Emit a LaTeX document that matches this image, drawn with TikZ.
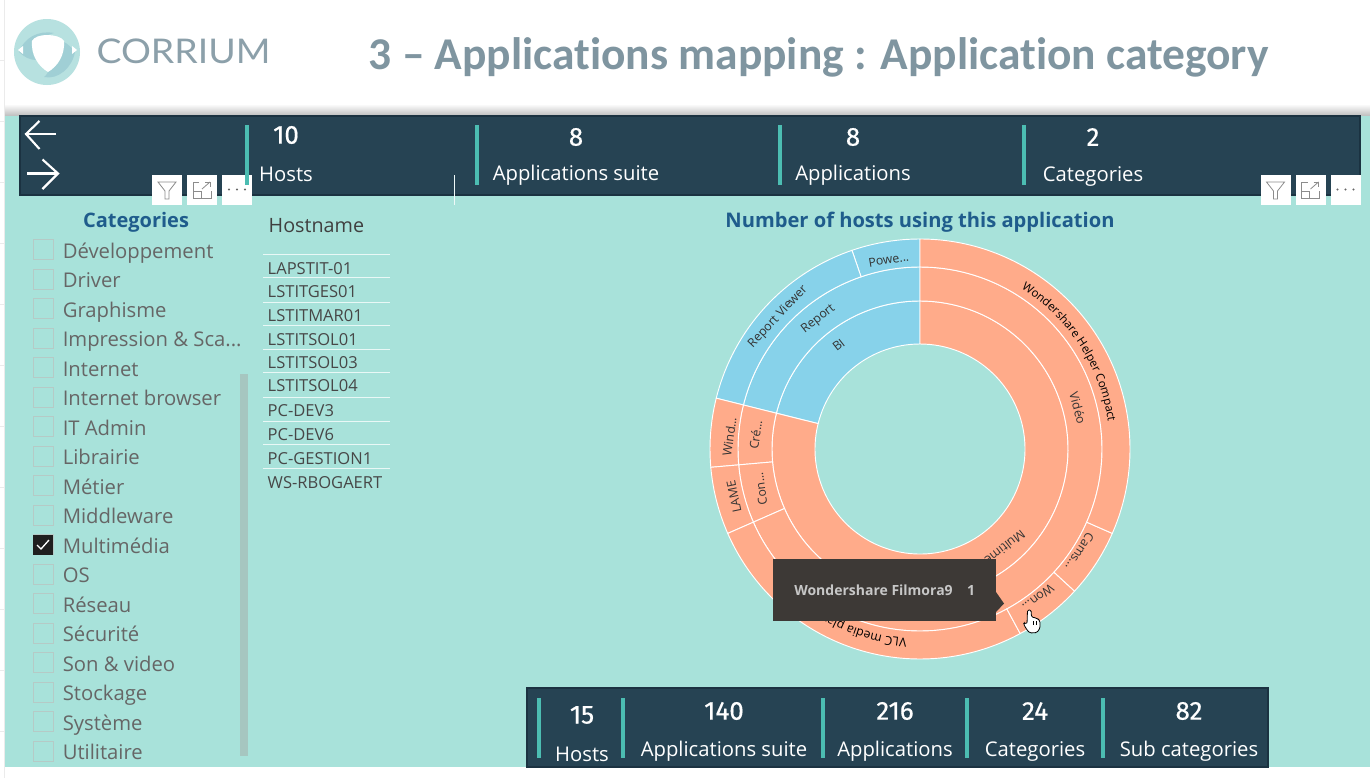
\documentclass[tikz,border=0pt]{standalone}
\usepackage{fontspec}
\setmainfont{Open Sans}
\newfontfamily\titlefont[Ligatures=NoCommon]{Carlito}
\newfontfamily\numfont[FakeBold=0.5]{Fira Sans}
\newfontfamily\logofont{Lato}
\usetikzlibrary{decorations.text}
\definecolor{pagebg}{HTML}{A8E2DA}
\definecolor{panelbg}{HTML}{264353}
\definecolor{panelline}{HTML}{1B3241}
\definecolor{barteal}{HTML}{4CBDB2}
\definecolor{sliceorange}{HTML}{FFAB8A}
\definecolor{sliceblue}{HTML}{87D2EA}
\definecolor{headblue}{HTML}{1F5C8C}
\definecolor{listgrey}{HTML}{666666}
\definecolor{titlegrey}{HTML}{7F95A0}
\definecolor{tipbg}{HTML}{3D3936}
\definecolor{logolight}{HTML}{B7E1E0}
\definecolor{logodark}{HTML}{A0CFD5}
\definecolor{scrollgrey}{HTML}{A6C6C0}
\definecolor{boxgrey}{HTML}{B5CAC6}
\def\ringslice[#1](#2:#3:#4:#5){\draw[#1] (#2:#4) arc (#2:#3:#4) -- (#3:#5) arc (#3:#2:#5) -- cycle;}
\def\slicefont{\fontsize{9.2}{10}\selectfont}
\def\longslicefont{\fontsize{8.7}{10}\selectfont}
\tikzset{
	barline/.style={fill=barteal, draw=none},
	kpinum/.style={text=white, font=\numfont\fontsize{19.5}{20}\selectfont},
	kpilabel/.style={text=white, font=\fontsize{15.2}{16}\selectfont},
	catlabel/.style={anchor=base west, inner sep=0pt, text=listgrey, font=\fontsize{15.2}{16}\selectfont},
	catbox/.style={draw=boxgrey, line width=0.6pt},
	hostlabel/.style={anchor=west, text=black!72, font=\fontsize{12.4}{13}\selectfont},
	slicelabel/.style={text=black!80, font=\slicefont},
	toolbox/.style={fill=white, draw=none},
	toolline/.style={draw=black!45, line width=0.6pt}
}
\begin{document}
\begin{tikzpicture}[x=0.75pt, y=-0.75pt]
	\useasboundingbox (0, 0) rectangle (1370, 778);
	%%%%% PAGE %%%%%
	\fill[white] (0, 0) rectangle (1370, 778);
	\fill[pagebg] (5, 115) rectangle (1370, 767);
	\draw[black!8] (4.5, 0) -- (4.5, 778);
	\foreach \ty in {60, 121, 182, 243, 304, 365, 426, 487, 548, 609, 670, 731}
		\draw[black!8] (0, \ty) -- (4.5, \ty);
	\shade[top color=white, bottom color=black!24] (5, 104) rectangle (1370, 115);

	%%%%% LOGO AND TITLE %%%%%
	\fill[logolight] (47, 52) circle (33);
	\fill[logodark] (19, 52) .. controls (24, 38) and (38, 30) .. (54, 33) -- (32, 40) .. controls (31, 48) and (33, 56) .. (36, 60) .. controls (30, 60) and (24, 57) .. (19, 52) -- cycle;
	\fill[logodark] (75, 52) .. controls (72, 68) and (58, 80) .. (44, 77) .. controls (47, 75) and (47, 73) .. (48, 72) .. controls (58, 66) and (64, 55) .. (64, 42) .. controls (68, 44) and (72, 48) .. (75, 52) -- cycle;
	\fill[white] (47, 35) .. controls (40, 35) and (34, 37) .. (32, 41) .. controls (31, 55) and (38, 66) .. (48, 72) .. controls (58, 66) and (65, 55) .. (64, 41) .. controls (62, 37) and (54, 35) .. (47, 35) -- cycle;
	\fill[white] (18, 50) -- (23, 46) -- (23, 54) -- cycle;
	\fill[white] (77, 50) -- (72, 46) -- (72, 54) -- cycle;
	\node[text=titlegrey!90, xscale=1.1, font=\logofont\fontsize{25.5}{26}\selectfont] (logotext) at (183.5, 51) {CORRIUM};
	\node[text=titlegrey, font=\titlefont\bfseries\fontsize{34.1}{35}\selectfont] (pagetitle) at (818.5, 57.5) {3 – Applications mapping : Application category};

	%%%%% TOP PANEL %%%%%
	\draw[fill=panelbg, draw=panelline, line width=1.5pt] (20, 116) rectangle (1360, 195);
	\draw[white, line width=1.6pt] (56, 134) -- (26, 134);
	\draw[white, line width=1.6pt] (39.5, 121) -- (26, 134) -- (39.5, 149);
	\draw[white, line width=1.6pt] (27, 173.5) -- (58, 173.5);
	\draw[white, line width=1.6pt] (42.5, 159.5) -- (58, 173.5) -- (42.5, 189);

	%%%%% VISUAL HEADER ICONS %%%%%
	\draw[white!80!pagebg, line width=0.5pt] (454.5, 175) -- (454.5, 205);
	\foreach \ix/\iy in {152/175, 1260.5/175} {
		\fill[toolbox] (\ix, \iy) rectangle (\ix+30, \iy+29.5);
		\draw[toolline] (\ix+6, \iy+7) -- (\ix+24, \iy+7) -- (\ix+17, \iy+16) -- (\ix+17, \iy+24) -- (\ix+13, \iy+24) -- (\ix+13, \iy+16) -- cycle;
		\fill[toolbox] (\ix+35, \iy) rectangle (\ix+65, \iy+29.5);
		\draw[toolline] (\ix+47, \iy+7) -- (\ix+41, \iy+7) -- (\ix+41, \iy+23) -- (\ix+59, \iy+23) -- (\ix+59, \iy+16);
		\draw[toolline] (\ix+41, \iy+16) -- (\ix+49, \iy+16) -- (\ix+49, \iy+23);
		\draw[toolline] (\ix+50, \iy+14) -- (\ix+58, \iy+7);
		\draw[toolline] (\ix+53, \iy+7) -- (\ix+58, \iy+7) -- (\ix+58, \iy+12);
		\fill[toolbox] (\ix+70, \iy) rectangle (\ix+100, \iy+29.5);
		\foreach \dx in {77, 85, 93}
			\fill[black!60] (\ix+\dx, \iy+14.5) circle (1.2);
	}

	\foreach \bx in {244.5, 474.5, 778, 1022}
		\fill[barline] (\bx, 125) rectangle (\bx+4, 185);
	\node[kpinum] (topnumhosts) at (286, 135) {10};
	\node[kpilabel] (toplabhosts) at (286, 174.5) {Hosts};
	\node[kpinum] (topnumsuite) at (576, 137) {8};
	\node[kpilabel] (toplabsuite) at (576, 175.5) {Applications suite};
	\node[kpinum] (topnumapps) at (853, 137) {8};
	\node[kpilabel] (toplabapps) at (853, 175.5) {Applications};
	\node[kpinum] (topnumcat) at (1093, 137) {2};
	\node[kpilabel] (toplabcat) at (1093, 176.5) {Categories};

	%%%%% CATEGORY SLICER %%%%%
	\node[text=headblue, font=\bfseries\fontsize{15}{15}\selectfont] (cattitle) at (136, 222) {Categories};
	\foreach \cname/\ctext [count=\ci from 0] in {dev/Développement, drv/Driver, gra/Graphisme, imp/{Impression \& Sca...}, net/Internet, bro/Internet browser, adm/IT Admin, lib/Librairie, met/Métier, mid/Middleware, mul/Multimédia, os/OS, res/Réseau, sec/Sécurité, son/Son \& video, sto/Stockage, sys/Système, uti/Utilitaire} {
		\draw[catbox] (33, {239.5+29.5*\ci}) rectangle (53, {259.5+29.5*\ci});
		\node[catlabel] (cat\cname) at (62.5, {258+29.5*\ci}) {\ctext};
	}
	\fill[black!88] (33, 534.5) rectangle (53, 554.5);
	\draw[white, line width=1pt] (37, 545) -- (41, 549) -- (49, 540);
	\fill[scrollgrey] (239.5, 374) rectangle (248, 755.5);

	%%%%% HOSTNAME TABLE %%%%%
	\node[anchor=west, text=black!75, font=\fontsize{14.8}{15}\selectfont] (hosttitle) at (264, 226) {Hostname};
	\foreach \ly in {254.5, 277.5, 302, 325, 349, 372.5, 397, 421, 444.5, 468}
		\draw[white!75!pagebg, line width=0.6pt] (263, \ly) -- (390, \ly);
	\foreach \hy/\hname/\htext in {268.5/a/LAPSTIT-01, 291.5/b/LSTITGES01, 316/c/LSTITMAR01, 339.5/d/LSTITSOL01, 363/e/LSTITSOL03, 386/f/LSTITSOL04, 410.5/g/PC-DEV3, 434.5/h/PC-DEV6, 458.5/i/PC-GESTION1, 482.5/j/WS-RBOGAERT}
		\node[hostlabel] (host\hname) at (263, \hy) {\htext};

	%%%%% SUNBURST %%%%%
	\node[text=headblue, font=\bfseries\fontsize{15.1}{15}\selectfont] (charttitle) at (920, 222) {Number of hosts using this application};
	\begin{scope}[shift={(920, 449)}, y=0.75pt]
		\tikzset{sliceedge/.style={draw=white, line width=0.7pt}}
		% inner ring
		\ringslice[sliceedge, fill=sliceblue](90:166:105:148)
		\ringslice[sliceedge, fill=sliceorange](166:450:105:148)
		% middle ring
		\ringslice[sliceedge, fill=sliceblue](90:166:148:182)
		\ringslice[sliceedge, fill=sliceorange](166:185:148:182)
		\ringslice[sliceedge, fill=sliceorange](185:203.7:148:182)
		\ringslice[sliceedge, fill=sliceorange](203.7:450:148:182)
		% outer ring
		\ringslice[sliceedge, fill=sliceblue](90:108.9:182:210)
		\ringslice[sliceedge, fill=sliceblue](108.9:166:182:210)
		\ringslice[sliceedge, fill=sliceorange](166:185:182:210)
		\ringslice[sliceedge, fill=sliceorange](185:203.7:182:210)
		\ringslice[sliceedge, fill=sliceorange](203.7:298.5:182:210)
		\ringslice[sliceedge, fill=sliceorange](298.5:317.4:182:210)
		\ringslice[sliceedge, fill=sliceorange](317.4:336.3:182:210)
		\ringslice[sliceedge, fill=sliceorange](336.3:450:182:210)
		% labels
		\node[slicelabel, rotate=38] (lbiname) at (128:132) {BI};
		\node[slicelabel, rotate=38] (lreport) at (128:165) {Report};
		\node[slicelabel, rotate=47] (lviewer) at (137:194) {Report Viewer};
		\node[slicelabel, rotate=9.4] (lpower) at (99.4:192) {Powe...};
		\node[slicelabel, rotate=82] (lwind) at (176.3:191) {Wind...};
		\node[slicelabel, rotate=82] (lcre) at (175:165) {Cré...};
		\node[slicelabel, rotate=102] (llame) at (194.4:192) {LAME};
		\node[slicelabel, rotate=98] (lcon) at (194:164) {Con...};
		\node[slicelabel, rotate=-75] (lvideo) at (14.5:163) {Vidéo};
		\node[slicelabel, rotate=-122.7] (lcams) at (-32.7:190) {Cams...};
		\node[slicelabel, rotate=-141.5] (lwon) at (-51.5:190) {Won...};
		\node[slicelabel, rotate=218] (lmulti) at (-53:130) {Multimédia};
		\path[decorate, decoration={text along path, text align=center, text={|\longslicefont|Wondershare Helper Compact}}] (60:190) arc (60:6:190);
		\path[decorate, decoration={text along path, text align=left, text={|\slicefont|VLC media player}}] (-94:190) arc (-94:-140:190);
	\end{scope}

	%%%%% TOOLTIP %%%%%
	\fill[tipbg] (773, 559) rectangle (996, 621);
	\fill[tipbg] (996, 592) -- (1004, 603.5) -- (996, 612) -- cycle;
	\node[text=black!22, font=\bfseries\fontsize{10.5}{11}\selectfont] (tipname) at (873.5, 590.5) {Wondershare Filmora9};
	\node[text=black!22, font=\bfseries\fontsize{10.5}{11}\selectfont] (tipvalue) at (971, 590.5) {1};
	\draw[fill=white, draw=black, line width=0.6pt, rounded corners=1pt] (1027.5, 610) -- (1031, 610) -- (1031.5, 617) -- (1034, 617.5) -- (1036, 618) -- (1038.5, 619.5) -- (1040, 621) -- (1040, 628) -- (1037, 632.5) -- (1030, 633) -- (1027, 630) -- (1023.5, 624) -- (1024.5, 622.5) -- (1027, 624) -- cycle;
	\draw[black, line width=0.4pt] (1033.5, 621) -- (1033.5, 625) (1036, 621) -- (1036, 625);

	%%%%% BOTTOM PANEL %%%%%
	\draw[fill=panelbg, draw=panelline, line width=1.5pt] (526.5, 687.5) rectangle (1267.5, 767);
	\foreach \bx in {537, 621, 821, 964.5, 1101}
		\fill[barline] (\bx, 698) rectangle (\bx+4, 758);
	\node[kpinum] (botnumhosts) at (582, 715) {15};
	\node[kpilabel] (botlabhosts) at (582, 754.5) {Hosts};
	\node[kpinum] (botnumsuite) at (724, 711) {140};
	\node[kpilabel] (botlabsuite) at (724, 751) {Applications suite};
	\node[kpinum] (botnumapps) at (895, 711) {216};
	\node[kpilabel] (botlabapps) at (895, 751) {Applications};
	\node[kpinum] (botnumcat) at (1035, 711) {24};
	\node[kpilabel] (botlabcat) at (1035, 751) {Categories};
	\node[kpinum] (botnumsub) at (1189, 711) {82};
	\node[kpilabel] (botlabsub) at (1189, 751) {Sub categories};
\end{tikzpicture}
\end{document}
